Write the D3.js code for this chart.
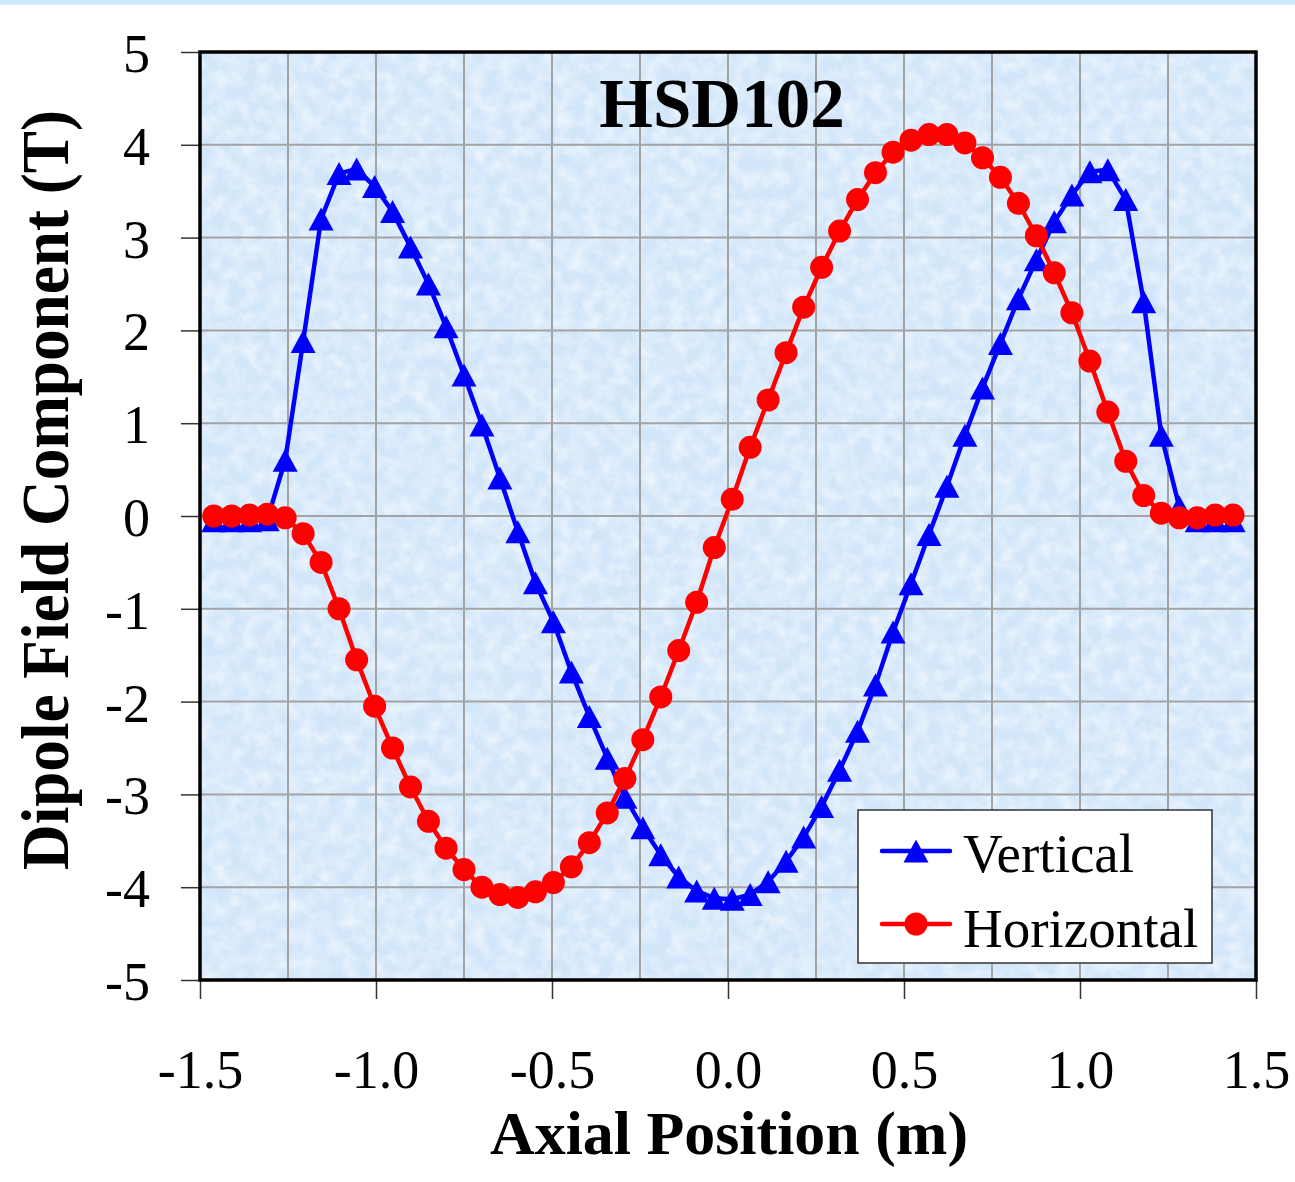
<!DOCTYPE html>
<html>
<head>
<meta charset="utf-8">
<script src="https://cdn.jsdelivr.net/npm/d3@7"></script>
<style>
  html, body { margin: 0; padding: 0; background: #ffffff; }
  svg { display: block; }
</style>
</head>
<body>
<svg id="chart" width="1295" height="1182"></svg>
<script>
// Axial measurement positions (m), 2-inch spacing
const positions = [
  -1.461, -1.410, -1.359, -1.309, -1.258, -1.207, -1.156, -1.105, -1.055, -1.004,
  -0.953, -0.902, -0.851, -0.801, -0.750, -0.699, -0.648, -0.597, -0.547, -0.496,
  -0.445, -0.394, -0.343, -0.293, -0.242, -0.191, -0.140, -0.089, -0.039, 0.012,
  0.063, 0.114, 0.165, 0.215, 0.266, 0.317, 0.368, 0.419, 0.469, 0.520,
  0.571, 0.622, 0.673, 0.723, 0.774, 0.825, 0.876, 0.927, 0.977, 1.028,
  1.079, 1.130, 1.181, 1.231, 1.282, 1.333, 1.384, 1.435
];

// Vertical dipole field component (T)
const verticalField = [
  -0.05, -0.05, -0.05, -0.04, 0.60, 1.88, 3.20, 3.69, 3.74, 3.55,
  3.28, 2.90, 2.50, 2.04, 1.52, 0.98, 0.41, -0.17, -0.72, -1.14,
  -1.68, -2.16, -2.61, -3.03, -3.36, -3.65, -3.89, -4.04, -4.12, -4.13,
  -4.08, -3.94, -3.72, -3.46, -3.13, -2.74, -2.32, -1.82, -1.25, -0.73,
  -0.20, 0.32, 0.87, 1.38, 1.86, 2.34, 2.76, 3.17, 3.46, 3.71,
  3.73, 3.41, 2.31, 0.87, 0.10, -0.05, -0.05, -0.05
];

// Horizontal dipole field component (T)
const horizontalField = [
  0.00, 0.00, 0.01, 0.02, -0.02, -0.19, -0.50, -1.00, -1.55, -2.05,
  -2.50, -2.92, -3.29, -3.58, -3.81, -4.00, -4.08, -4.11, -4.05, -3.95,
  -3.78, -3.52, -3.20, -2.83, -2.41, -1.95, -1.45, -0.93, -0.34, 0.18,
  0.74, 1.25, 1.76, 2.25, 2.68, 3.07, 3.41, 3.70, 3.92, 4.05,
  4.11, 4.11, 4.02, 3.86, 3.65, 3.37, 3.02, 2.62, 2.19, 1.67,
  1.12, 0.59, 0.22, 0.03, -0.02, -0.02, 0.01, 0.01
];

const xTicks = [-1.5, -1.0, -0.5, 0.0, 0.5, 1.0, 1.5];
const xTickLabels = ["-1.5", "-1.0", "-0.5", "0.0", "0.5", "1.0", "1.5"];
const yTicks = [5, 4, 3, 2, 1, 0, -1, -2, -3, -4, -5];
const yTickLabels = ["5", "4", "3", "2", "1", "0", "-1", "-2", "-3", "-4", "-5"];
const xGrid = [-1.25, -1.0, -0.75, -0.5, -0.25, 0.0, 0.25, 0.5, 0.75, 1.0, 1.25];
const yGrid = [4, 3, 2, 1, 0, -1, -2, -3, -4];

const seriesNames = ["Vertical", "Horizontal"];
const seriesColors = ["#0000ff", "#ff0000"];
const chartTitle = "HSD102";
const xTitle = "Axial Position (m)";
const yTitle = "Dipole Field Component (T)";

const svg = d3.select("#chart");
const FONT = "'Liberation Serif', 'Times New Roman', serif";

const plot = { left: 200, right: 1256, top: 52, bottom: 980 };
const x = d3.scaleLinear().domain([-1.5, 1.5]).range([plot.left, plot.right]);
const y = d3.scaleLinear().domain([-5, 5]).range([plot.bottom, plot.top]);

// thin band along the top edge of the page
svg.append("rect").attr("x", 0).attr("y", 0).attr("width", 1295).attr("height", 5)
  .attr("fill", "#cde9fb");

// textured light-blue plot background
const defs = svg.append("defs");
const marble = defs.append("filter").attr("id", "marble")
  .attr("x", 0).attr("y", 0).attr("width", "100%").attr("height", "100%");
marble.append("feTurbulence").attr("type", "fractalNoise")
  .attr("baseFrequency", "0.07").attr("numOctaves", 3).attr("seed", 7).attr("result", "n");
marble.append("feColorMatrix").attr("in", "n").attr("type", "matrix")
  .attr("values", "0 0 0 0 1  0 0 0 0 1  0 0 0 0 1  1.1 0 0 0 -0.38");

const clip = defs.append("clipPath").attr("id", "plotClip");
clip.append("rect").attr("x", plot.left).attr("y", plot.top)
  .attr("width", plot.right - plot.left).attr("height", plot.bottom - plot.top);

svg.append("rect")
  .attr("x", plot.left).attr("y", plot.top)
  .attr("width", plot.right - plot.left).attr("height", plot.bottom - plot.top)
  .attr("fill", "#d2e6fa");
svg.append("rect")
  .attr("x", plot.left).attr("y", plot.top)
  .attr("width", plot.right - plot.left).attr("height", plot.bottom - plot.top)
  .attr("fill", "#ffffff")
  .attr("filter", "url(#marble)");

// grid
const grid = svg.append("g").attr("stroke", "#a3a3a3").attr("stroke-width", 2);
grid.selectAll("line.vx").data(xGrid).join("line")
  .attr("x1", d => x(d)).attr("x2", d => x(d))
  .attr("y1", plot.top).attr("y2", plot.bottom);
grid.selectAll("line.hy").data(yGrid).join("line")
  .attr("x1", plot.left).attr("x2", plot.right)
  .attr("y1", d => y(d)).attr("y2", d => y(d));

// axes
const xAxis = d3.axisBottom(x).tickValues(xTicks)
  .tickFormat((d, i) => xTickLabels[i]).tickSize(19).tickSizeOuter(0).tickPadding(0);
const gx = svg.append("g").attr("transform", `translate(0,${plot.bottom})`).call(xAxis);
gx.select(".domain").remove();
gx.selectAll(".tick line").attr("stroke", "#333").attr("stroke-width", 1.5);
gx.selectAll(".tick text")
  .attr("y", 108).attr("dy", null)
  .attr("font-family", FONT).attr("font-size", 54).attr("fill", "#000");

const yAxis = d3.axisLeft(y).tickValues(yTicks)
  .tickFormat((d, i) => yTickLabels[i]).tickSize(19).tickSizeOuter(0).tickPadding(32);
const gy = svg.append("g").attr("transform", `translate(${plot.left},0)`).call(yAxis);
gy.select(".domain").remove();
gy.selectAll(".tick line").attr("stroke", "#333").attr("stroke-width", 1.5);
gy.selectAll(".tick text")
  .attr("x", -50).attr("dy", "0.36em")
  .attr("font-family", FONT).attr("font-size", 54).attr("fill", "#000");

// series
const seriesData = [verticalField, horizontalField].map(vals =>
  vals.map((v, i) => ({ x: positions[i], y: v })));

const line = d3.line().x(d => x(d.x)).y(d => y(d.y));
const triPath = "M0,-11.5L12.5,11.5L-12.5,11.5Z";

const plotLayer = svg.append("g").attr("clip-path", "url(#plotClip)");

seriesData.forEach((pts, si) => {
  const g = plotLayer.append("g");
  g.append("path").datum(pts)
    .attr("d", line)
    .attr("fill", "none")
    .attr("stroke", seriesColors[si])
    .attr("stroke-width", 4.5)
    .attr("stroke-linejoin", "round");
  if (si === 0) {
    g.selectAll("path.m").data(pts).join("path")
      .attr("class", "m")
      .attr("d", triPath)
      .attr("transform", d => `translate(${x(d.x)},${y(d.y)})`)
      .attr("fill", seriesColors[si]);
  } else {
    g.selectAll("circle").data(pts).join("circle")
      .attr("cx", d => x(d.x)).attr("cy", d => y(d.y))
      .attr("r", 11.5)
      .attr("fill", seriesColors[si]);
  }
});

// plot frame
svg.append("rect")
  .attr("x", plot.left).attr("y", plot.top)
  .attr("width", plot.right - plot.left).attr("height", plot.bottom - plot.top)
  .attr("fill", "none").attr("stroke", "#000").attr("stroke-width", 3.5);

// title
svg.append("text")
  .attr("x", 722).attr("y", 127)
  .attr("text-anchor", "middle")
  .attr("font-family", FONT).attr("font-weight", "bold").attr("font-size", 69)
  .text(chartTitle);

// axis titles
svg.append("text")
  .attr("x", 729).attr("y", 1154)
  .attr("text-anchor", "middle")
  .attr("font-family", FONT).attr("font-weight", "bold").attr("font-size", 62)
  .attr("textLength", 478).attr("lengthAdjust", "spacingAndGlyphs")
  .text(xTitle);

svg.append("text")
  .attr("transform", "translate(68,490) rotate(-90)")
  .attr("text-anchor", "middle")
  .attr("font-family", FONT).attr("font-weight", "bold").attr("font-size", 68)
  .attr("textLength", 760).attr("lengthAdjust", "spacingAndGlyphs")
  .text(yTitle);

// legend
const legend = svg.append("g");
legend.append("rect")
  .attr("x", 858).attr("y", 810).attr("width", 354).attr("height", 153)
  .attr("fill", "#ffffff").attr("stroke", "#333").attr("stroke-width", 1.5);
const legendRows = [851, 924];
const legendBaselines = [872, 947];
seriesNames.forEach((name, i) => {
  legend.append("line")
    .attr("x1", 882).attr("x2", 950)
    .attr("y1", legendRows[i]).attr("y2", legendRows[i])
    .attr("stroke", seriesColors[i]).attr("stroke-width", 4.5)
    .attr("stroke-linecap", "round");
  if (i === 0) {
    legend.append("path").attr("d", triPath)
      .attr("transform", `translate(916,${legendRows[i]})`)
      .attr("fill", seriesColors[i]);
  } else {
    legend.append("circle").attr("cx", 916).attr("cy", legendRows[i]).attr("r", 11.5)
      .attr("fill", seriesColors[i]);
  }
  legend.append("text")
    .attr("x", 963).attr("y", legendBaselines[i])
    .attr("font-family", FONT).attr("font-size", 55)
    .text(name);
});
</script>
</body>
</html>
